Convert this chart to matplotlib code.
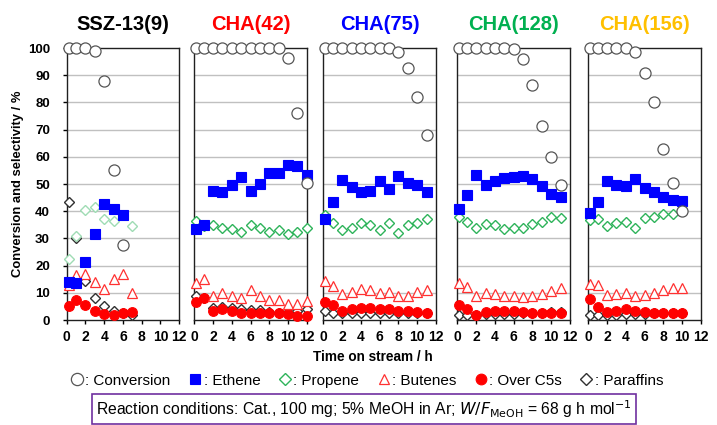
"""Conversion and product selectivity vs. time on stream for SSZ-13 / CHA catalysts."""

import matplotlib
matplotlib.use("Agg")
import matplotlib.pyplot as plt
import numpy as np
from matplotlib.lines import Line2D

plt.rcParams["font.family"] = ["Liberation Sans", "DejaVu Sans"]

nan = np.nan

# ---------------------------------------------------------------------------
# Data
# ---------------------------------------------------------------------------

TITLES = ["SSZ-13(9)", "CHA(42)", "CHA(75)", "CHA(128)", "CHA(156)"]
TITLE_COLORS = ["black", "#ff0000", "#0000ff", "#00b050", "#ffc000"]

# SSZ-13(9)
ssz_t = [0.2, 1, 2, 3, 4, 5, 6, 7]
ssz_conv = [100, 100, 100, 99, 88, 55, 27.5, nan]
ssz_ethene = [14, 13.5, 21.5, 31.5, 42.5, 41, 38.5, nan]
ssz_propene = [22.5, 31, 40.5, 41.5, 37, 36.5, nan, 34.5]
ssz_butenes = [13, 16.5, 17, 14, 11.5, 15, 17, 10]
ssz_c5 = [5, 7.5, 5.5, 3.5, 2.3, 2, 2.5, 3]
ssz_paraffins = [43.5, 30, 14.5, 8, 5, 3.5, 2.5, 2]

# CHA(42)
c42_t = [0.2, 1, 2, 3, 4, 5, 6, 7, 8, 9, 10, 11, 12]
c42_conv = [100, 100, 100, 100, 100, 100, 100, 100, 100, 100, 96.5, 76, 50.5]
c42_ethene = [33.5, 35, 47.5, 47, 49.5, 52.5, 47.5, 50, 54, 54, 57, 56.5, 53.5]
c42_propene = [36.5, 34.5, 35, 34, 33.5, 32.5, 35, 34, 32.5, 33, 31.5, 32.5, 34]
c42_butenes = [13.5, 15, 9, 10, 9, 8, 11, 9, 7.3, 7.5, 6, 6, 7]
c42_c5 = [6.5, 8, 3.3, 4, 3.3, 2.4, 2.4, 2.7, 2.4, 2.4, 2.3, 1.5, 1.5]
c42_paraffins = [9, 8, 4.5, 4.8, 4.3, 3.9, 3.7, 3.7, 2.9, 2.7, 2.9, 3.3, 3.9]

# CHA(75)
c75_t = [0.2, 1, 2, 3, 4, 5, 6, 7, 8, 9, 10, 11]
c75_conv = [100, 100, 100, 100, 100, 100, 100, 100, 98.5, 92.5, 82, 68]
c75_ethene = [37, 43.5, 51.5, 49, 47, 47.5, 51, 48, 53, 50.5, 49.5, 47]
c75_propene = [38.5, 35.5, 33, 34, 35.5, 35, 33, 35.5, 32, 35, 35.5, 37]
c75_butenes = [14.5, 12.5, 9.5, 10.2, 11.5, 11, 10, 10.2, 9, 9, 10.2, 11.2]
c75_c5 = [6.7, 5.7, 3.3, 3.9, 4.5, 4.3, 3.9, 3.9, 3.3, 3.3, 2.9, 2.7]
c75_paraffins = [3.5, 2.7, 2.4, 2.4, 2.4, 2.4, 2.4, 2.4, 2.4, 2.4, 2.4, 2.4]

# CHA(128)
c128_t = [0.2, 1, 2, 3, 4, 5, 6, 7, 8, 9, 10, 11]
c128_conv = [100, 100, 100, 100, 100, 100, 99.5, 96, 86.5, 71.5, 60, 49.5]
c128_ethene = [41, 46, 53.3, 49.5, 51, 52.3, 52.4, 52.9, 52, 49.3, 46.2, 45.4]
c128_propene = [38, 36.2, 34, 35.4, 34.8, 33.5, 34, 33.8, 35.4, 36.2, 38, 37.4]
c128_butenes = [13.7, 12.2, 8.8, 10, 9.4, 9, 9, 8.5, 8.8, 9.4, 10.6, 11.8]
c128_c5 = [5.4, 3.9, 2, 2.9, 3.3, 3.3, 3.3, 2.9, 2.7, 2.7, 2.4, 2.4]
c128_paraffins = [2, 2, 2, 2.3, 2.3, 2.3, 2.3, 2.4, 2.4, 2.7, 2.9, 2.9]

# CHA(156)
c156_t = [0.2, 1, 2, 3, 4, 5, 6, 7, 8, 9, 10]
c156_conv = [100, 100, 100, 100, 100, 98.5, 91, 80, 63, 50.5, 40]
c156_ethene = [39.5, 43.5, 51, 49.7, 49.4, 51.7, 48.6, 47, 45.3, 44, 43.8]
c156_propene = [36.8, 37, 34.4, 35.6, 35.9, 33.8, 37.4, 37.7, 38.9, 38.9, 39.9]
c156_butenes = [13.4, 13, 9.1, 9.6, 9.8, 9, 9.1, 9.8, 11, 11.8, 11.8]
c156_c5 = [7.8, 4.8, 2.9, 3.3, 3.9, 3.3, 2.9, 2.7, 2.7, 2.7, 2.7]
c156_paraffins = [2, 2, 2, 2, 2.2, 2.2, 2.2, 2.4, 2.4, 2.4, 2.4]

PANELS = [
    (ssz_t, ssz_conv, ssz_ethene, ssz_propene, ssz_butenes, ssz_c5, ssz_paraffins),
    (c42_t, c42_conv, c42_ethene, c42_propene, c42_butenes, c42_c5, c42_paraffins),
    (c75_t, c75_conv, c75_ethene, c75_propene, c75_butenes, c75_c5, c75_paraffins),
    (c128_t, c128_conv, c128_ethene, c128_propene, c128_butenes, c128_c5, c128_paraffins),
    (c156_t, c156_conv, c156_ethene, c156_propene, c156_butenes, c156_c5, c156_paraffins),
]

# ---------------------------------------------------------------------------
# Styles
# ---------------------------------------------------------------------------

GREEN = "#2eb35a"
STYLES = {
    "ethene": dict(marker="s", ms=7, mfc="#0000ff", mec="#0000ff", mew=0.8),
    "propene": dict(marker="D", ms=5.5, mfc="white", mec=GREEN, mew=1.0),
    "butenes": dict(marker="^", ms=7, mfc="white", mec="#ff3030", mew=0.9),
    "c5": dict(marker="o", ms=7, mfc="#ff0000", mec="#ff0000", mew=0.8),
    "paraffins": dict(marker="D", ms=5.5, mfc="white", mec="#303030", mew=1.0),
    "conv": dict(marker="o", ms=8, mfc="white", mec="#555555", mew=0.9),
}

fig = plt.figure(figsize=(7.17, 4.25), dpi=100)

lefts = [0.093, 0.271, 0.451, 0.638, 0.8205]
bottom, height, width = 0.247, 0.640, 0.157

for i, (t, conv, eth, pro, but, c5, par) in enumerate(PANELS):
    ax = fig.add_axes([lefts[i], bottom, width, height])
    for y in range(10, 100, 10):
        ax.axhline(y, color="#c0c0c0", lw=1.0, zorder=0)

    pro_style = dict(STYLES["propene"])
    if i == 0:
        pro_style["mec"] = "#9fdcb4"
    series = [(par, STYLES["paraffins"]), (c5, STYLES["c5"]), (but, STYLES["butenes"]),
              (pro, pro_style), (eth, STYLES["ethene"]), (conv, STYLES["conv"])]
    for vals, st in series:
        ax.plot(t, vals, ls="none", clip_on=False, zorder=3, **st)

    ax.set_xlim(0, 12)
    ax.set_ylim(0, 100)
    ax.set_xticks(range(0, 13, 2))
    ax.set_yticks(range(0, 101, 10))
    ax.tick_params(axis="x", direction="out", length=3, width=1, labelsize=10, pad=4)
    ax.tick_params(axis="y", direction="out", length=3, width=1, labelsize=9.5, pad=9)
    for lab in ax.get_xticklabels() + ax.get_yticklabels():
        lab.set_fontweight("bold")
    if i > 0:
        ax.set_yticklabels([])
        ax.tick_params(axis="y", length=0)
    else:
        ax.set_ylabel("Conversion and selectivity / %", fontsize=9.4,
                      fontweight="bold", labelpad=3)
    for sp in ax.spines.values():
        sp.set_linewidth(1.0)
        sp.set_color("#202020")
    ax.set_title(TITLES[i], color=TITLE_COLORS[i], fontsize=14.5,
                 fontweight="bold", pad=13)

fig.text(0.52, 0.161, "Time on stream / h", ha="center", va="center",
         fontsize=9.8, fontweight="bold")

handles = [
    Line2D([], [], ls="none", **STYLES["conv"]),
    Line2D([], [], ls="none", **STYLES["ethene"]),
    Line2D([], [], ls="none", **STYLES["propene"]),
    Line2D([], [], ls="none", **STYLES["butenes"]),
    Line2D([], [], ls="none", **STYLES["c5"]),
    Line2D([], [], ls="none", **STYLES["paraffins"]),
]
labels = [": Conversion", ": Ethene", ": Propene", ": Butenes", ": Over C5s", ": Paraffins"]
fig.legend(handles, labels, loc="center", bbox_to_anchor=(0.512, 0.104), ncol=6,
           frameon=False, fontsize=11, handlelength=0.8, handletextpad=0.15,
           columnspacing=1.2, borderaxespad=0, markerscale=1.1)

fig.text(0.508, 0.038,
         r"Reaction conditions: Cat., 100 mg; 5% MeOH in Ar; $W/F_{\mathrm{MeOH}}$ = 68 g h mol$^{-1}$",
         ha="center", va="center", fontsize=11.3,
         bbox=dict(boxstyle="square,pad=0.25", fc="white", ec="#7030a0", lw=1.2))

fig.savefig("out.png", dpi=100)
